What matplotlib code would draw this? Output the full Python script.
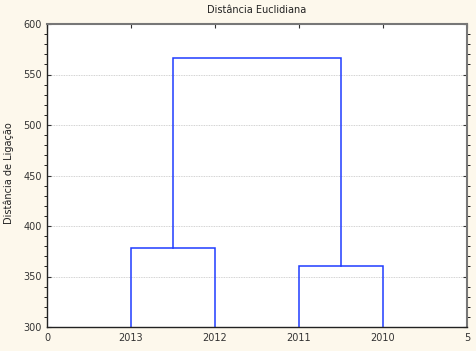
import matplotlib
matplotlib.use('Agg')
import matplotlib.pyplot as plt
from matplotlib.ticker import MultipleLocator

# folhas e alturas de ligação (distância euclidiana)
folhas = ['2013', '2012', '2011', '2010']
posicoes = [1, 2, 3, 4]
# (posição esquerda, altura esquerda, posição direita, altura direita, altura da ligação)
ligacoes = [
    (1, 300, 2, 300, 378),
    (3, 300, 4, 300, 360),
    (1.5, 378, 3.5, 360, 566),
]

fundo = '#fdf8ec'
azul = '#1f3cff'

fig = plt.figure(figsize=(4.76, 3.51), dpi=100, facecolor=fundo)
ax = fig.add_axes([47 / 476, 1 - 327 / 351, 420 / 476, 303 / 351])
ax.set_facecolor('white')

for xe, he, xd, hd, h in ligacoes:
    ax.plot([xe, xe, xd, xd], [he, h, h, hd], color=azul, lw=1.1, solid_joinstyle='miter')

ax.set_xlim(0, 5)
ax.set_ylim(300, 600)
ax.set_xticks([0] + posicoes + [5])
ax.set_xticklabels(['0'] + folhas + ['5'])
ax.yaxis.set_major_locator(MultipleLocator(50))
ax.yaxis.set_minor_locator(MultipleLocator(10))
ax.tick_params(axis='both', labelsize=7, colors='#333333', direction='in', length=3, width=0.8)
ax.tick_params(axis='y', which='both', right=True, left=True)
ax.tick_params(axis='y', which='minor', length=2)
ax.tick_params(axis='x', top=True, bottom=False, pad=4)
ax.grid(axis='y', which='major', linestyle=(0, (1, 1)), color='#c4c4c4', lw=0.6)
ax.set_axisbelow(True)

for lado in ['left', 'bottom']:
    ax.spines[lado].set_color('#222222')
    ax.spines[lado].set_linewidth(1.0)
for lado in ['top', 'right']:
    ax.spines[lado].set_color('#777777')
    ax.spines[lado].set_linewidth(1.5)

ax.set_title('Distância Euclidiana', fontsize=7, color='#222222', pad=8)
fig.text(9 / 476, 1 - 173 / 351, 'Distância de Ligação', fontsize=7, color='#222222',
         rotation=90, ha='center', va='center')

fig.savefig('out.png', dpi=100, facecolor=fundo)
